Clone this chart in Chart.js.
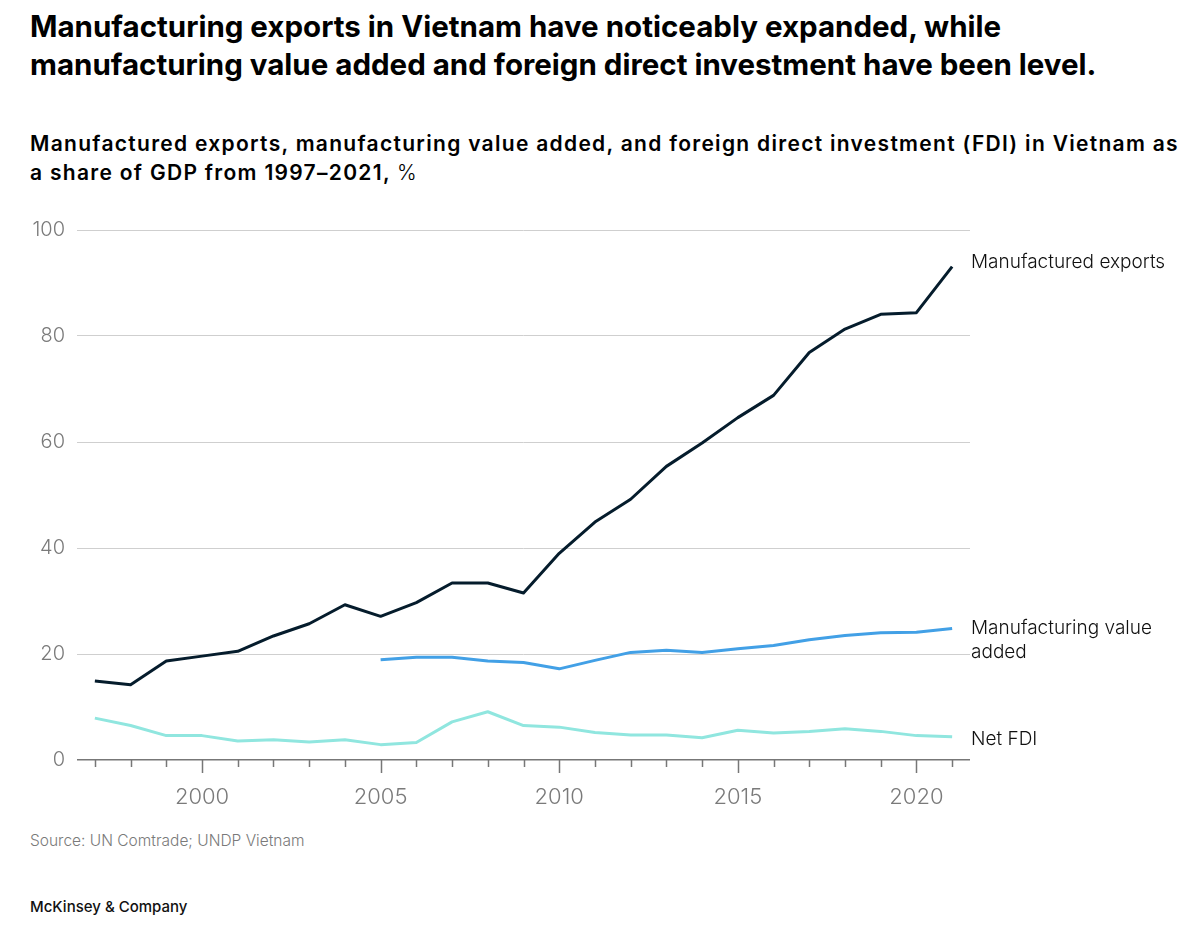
<!DOCTYPE html>
<html>
<head>
<meta charset="utf-8">
<script src="https://cdn.jsdelivr.net/npm/chart.js@4.4.1/dist/chart.umd.min.js"></script>
<style>
  body { margin: 0; background: #fff; width: 1200px; height: 936px; overflow: hidden; font-family: Inter, "Noto Sans", sans-serif; }
  .title { position: absolute; left: 30px; top: 7px; font-size: 29.5px; font-weight: 700; line-height: 38px; color: #000; white-space: nowrap; }
  .subtitle { position: absolute; left: 30px; top: 129px; font-size: 21px; font-weight: 600; line-height: 29px; letter-spacing: 1.3px; color: #000; white-space: nowrap; }
  .subtitle span { font-weight: 300; }
  .source { position: absolute; left: 30px; top: 832px; font-size: 15.5px; font-weight: 300; line-height: 18px; color: #7a7a7a; }
  .brand { position: absolute; left: 30px; top: 898px; font-size: 15px; font-weight: 500; line-height: 18px; color: #111; }
  #wrap { position: absolute; left: 0; top: 200px; width: 1200px; height: 620px; }
</style>
</head>
<body>
<div class="title">Manufacturing exports in Vietnam have noticeably expanded, while<br>manufacturing value added and foreign direct investment have been level.</div>
<div class="subtitle">Manufactured exports, manufacturing value added, and foreign direct investment (FDI) in Vietnam as<br>a share of GDP from 1997–2021, <span>%</span></div>
<div id="wrap"><canvas id="vnChart"></canvas></div>
<div class="source">Source: UN Comtrade; UNDP Vietnam</div>
<div class="brand">McKinsey &amp; Company</div>

<script>
// data
const years = [1997, 1998, 1999, 2000, 2001, 2002, 2003, 2004, 2005, 2006, 2007, 2008, 2009,
               2010, 2011, 2012, 2013, 2014, 2015, 2016, 2017, 2018, 2019, 2020, 2021];
const exportsShare = [14.9, 14.2, 18.7, 19.6, 20.5, 23.4, 25.7, 29.3, 27.1, 29.7, 33.4, 33.4, 31.5,
                      39.0, 44.9, 49.2, 55.4, 59.8, 64.6, 68.8, 76.9, 81.3, 84.1, 84.4, 93.1];
const valueAdded = [null, null, null, null, null, null, null, null, 18.9, 19.4, 19.4, 18.7, 18.4,
                    17.2, 18.8, 20.3, 20.7, 20.3, 21.0, 21.6, 22.7, 23.5, 24.0, 24.1, 24.8];
const netFdi = [7.9, 6.5, 4.6, 4.6, 3.6, 3.8, 3.4, 3.8, 2.9, 3.3, 7.2, 9.1, 6.5,
                6.2, 5.2, 4.7, 4.7, 4.2, 5.6, 5.1, 5.4, 5.9, 5.4, 4.6, 4.4];
const seriesLabels = [["Manufactured exports"], ["Manufacturing value", "added"], ["Net FDI"]];
const yTicks = [0, 20, 40, 60, 80, 100];

const toPoints = (vals) => years.map((yr, i) => ({x: yr, y: vals[i]}));

// year tick marks, longer every 5 years
const tickMarks = {
    id: "tickMarks",
    afterDraw(chart) {
        const ctx = chart.ctx;
        const xs = chart.scales.x;
        const bottom = chart.chartArea.bottom;
        ctx.save();
        ctx.strokeStyle = "#777";
        ctx.lineWidth = 1.5;
        years.forEach(yr => {
            const px = Math.round(xs.getPixelForValue(yr)) + 0.5;
            ctx.beginPath();
            ctx.moveTo(px, bottom);
            ctx.lineTo(px, bottom + (yr % 5 === 0 ? 13 : 7));
            ctx.stroke();
        });
        ctx.restore();
    }
};

// series names at the end of each line
const endLabels = {
    id: "endLabels",
    afterDatasetsDraw(chart) {
        const ctx = chart.ctx;
        const ys = chart.scales.y;
        const x = chart.chartArea.right + 1;
        const nudge = [-4, 0, 3];
        ctx.save();
        ctx.font = '300 19px Inter, "Noto Sans", sans-serif';
        ctx.fillStyle = "#111";
        ctx.textAlign = "left";
        ctx.textBaseline = "middle";
        chart.data.datasets.forEach((ds, i) => {
            const last = ds.data[ds.data.length - 1].y;
            const py = ys.getPixelForValue(last) + nudge[i];
            seriesLabels[i].forEach((line, j) => ctx.fillText(line, x, py + j * 24));
        });
        ctx.restore();
    }
};

new Chart(document.getElementById("vnChart"), {
    type: "line",
    data: {
        datasets: [
            {label: "Manufactured exports", data: toPoints(exportsShare), borderColor: "#051c2c"},
            {label: "Manufacturing value added", data: toPoints(valueAdded), borderColor: "#42a0e6"},
            {label: "Net FDI", data: toPoints(netFdi), borderColor: "#90e6df"}
        ]
    },
    options: {
        responsive: true,
        maintainAspectRatio: false,
        animation: false,
        layout: {padding: {top: 30, right: 230, bottom: 0, left: 0}},
        elements: {
            line: {borderWidth: 3, tension: 0, borderJoinStyle: "round", borderCapStyle: "butt"},
            point: {radius: 0, hoverRadius: 0}
        },
        plugins: {legend: {display: false}, tooltip: {enabled: false}},
        scales: {
            x: {
                type: "linear",
                min: 1996.5,
                max: 2021.5,
                afterBuildTicks: (scale) => { scale.ticks = years.map(v => ({value: v})); },
                afterFit: (scale) => { scale.height = 60; },
                grid: {display: false},
                border: {display: false},
                ticks: {
                    autoSkip: false,
                    maxRotation: 0,
                    padding: 16,
                    color: "#7a7a7a",
                    font: {family: "Inter", size: 22, weight: 300},
                    callback: (v) => (v % 5 === 0 ? String(v) : "")
                }
            },
            y: {
                min: 0,
                max: 100,
                afterBuildTicks: (scale) => { scale.ticks = yTicks.map(v => ({value: v})); },
                afterFit: (scale) => { scale.width = 77; },
                border: {display: false},
                grid: {
                    drawTicks: false,
                    color: (c) => (c.tick && c.tick.value === 0 ? "#777" : "#cfcfcf"),
                    lineWidth: (c) => (c.tick && c.tick.value === 0 ? 1.5 : 1)
                },
                ticks: {
                    padding: 12,
                    color: "#7a7a7a",
                    font: {family: "Inter", size: 20, weight: 300}
                }
            }
        }
    },
    plugins: [tickMarks, endLabels]
});
</script>
</body>
</html>
